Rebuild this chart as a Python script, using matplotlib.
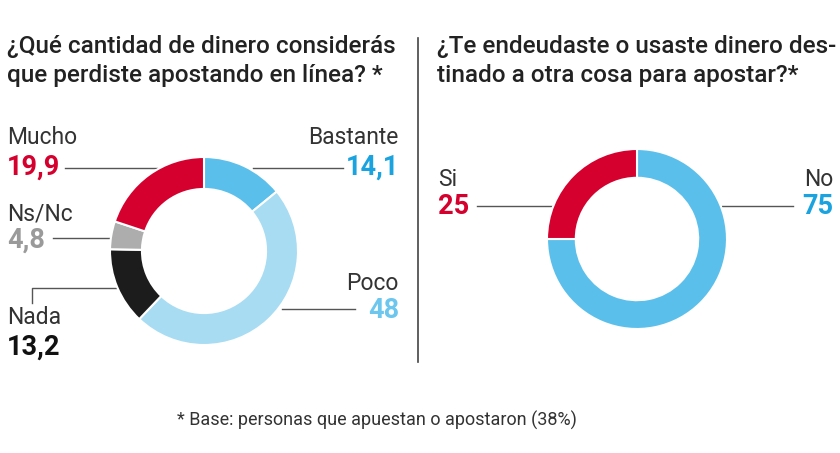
import matplotlib
matplotlib.use("Agg")
import matplotlib.pyplot as plt

# ---- data ----
left_labels = ["Bastante", "Poco", "Nada", "Ns/Nc", "Mucho"]
left_values = [14.1, 48, 13.2, 4.8, 19.9]
left_value_text = ["14,1", "48", "13,2", "4,8", "19,9"]
left_colors = ["#5bbfeb", "#a7dcf3", "#1c1c1c", "#adadad", "#d5002d"]
left_num_colors = ["#1aa3df", "#6cc6ee", "#111111", "#9a9a9a", "#d5002d"]

right_labels = ["No", "Si"]
right_values = [75, 25]
right_value_text = ["75", "25"]
right_colors = ["#5bbfeb", "#d5002d"]
right_num_colors = ["#1aa3df", "#d5002d"]

title_left = "¿Qué cantidad de dinero considerás\nque perdiste apostando en línea? *"
title_right = "¿Te endeudaste o usaste dinero des-\ntinado a otra cosa para apostar?*"
footnote = "* Base: personas que apuestan o apostaron (38%)"

W, H = 840, 453
plt.rcParams['font.family'] = ['Roboto', 'DejaVu Sans']
fig = plt.figure(figsize=(W / 100, H / 100), dpi=100)
fig.patch.set_facecolor("white")

ov = fig.add_axes([0, 0, 1, 1])
ov.set_xlim(0, W)
ov.set_ylim(H, 0)
ov.axis("off")

def donut(cx, cy, r, values, colors, width):
    ax = fig.add_axes([(cx - r) / W, (H - cy - r) / H, 2 * r / W, 2 * r / H])
    ax.pie(values, colors=colors, startangle=90, counterclock=False, radius=1,
           wedgeprops=dict(width=width, edgecolor="white", linewidth=1.5))
    ax.set_xlim(-1, 1)
    ax.set_ylim(-1, 1)
    ax.axis("off")
    return ax

donut(204, 251, 94, left_values, left_colors, 0.34)
donut(637, 239, 90, right_values, right_colors, 0.32)

txt = "#333333"
line_c = "#555555"

# titles
ov.text(7, 61, title_left, fontsize=17.5, color="#222222", ha="left", va="center",
        linespacing=1.35, fontweight="medium")
ov.text(437, 61, title_right, fontsize=17.5, color="#222222", ha="left", va="center",
        linespacing=1.35, fontweight="medium")

# divider
ov.plot([418, 418], [38, 362], color="#444444", lw=1.2)

lab_fs = 16.5
num_fs = 19.5

def label(x, y_lab, y_num, name, num, ncol, ha):
    ov.text(x, y_lab, name, fontsize=lab_fs, color=txt, ha=ha, va="center")
    ov.text(x, y_num, num, fontsize=num_fs, color=ncol, ha=ha, va="center", fontweight="bold")

# left chart labels
idx = {n: i for i, n in enumerate(left_labels)}
i = idx["Mucho"]; label(7, 137, 167, "Mucho", left_value_text[i], left_num_colors[i], "left")
ov.plot([65, 157], [168, 168], color=line_c, lw=1)
i = idx["Bastante"]; label(399, 137, 167, "Bastante", left_value_text[i], left_num_colors[i], "right")
ov.plot([253, 343], [168, 168], color=line_c, lw=1)
i = idx["Ns/Nc"]; label(7, 214, 240, "Ns/Nc", left_value_text[i], left_num_colors[i], "left")
ov.plot([53, 109], [238, 238], color=line_c, lw=1)
i = idx["Nada"]; label(7, 318, 347, "Nada", left_value_text[i], left_num_colors[i], "left")
ov.plot([32, 32, 116], [303, 288, 288], color=line_c, lw=1)
i = idx["Poco"]; label(399, 284, 310, "Poco", left_value_text[i], left_num_colors[i], "right")
ov.plot([282, 355], [309, 309], color=line_c, lw=1)

# right chart labels
label(438, 180, 207, "Si", right_value_text[1], right_num_colors[1], "left")
ov.plot([477, 552], [206, 206], color=line_c, lw=1)
label(833, 180, 207, "No", right_value_text[0], right_num_colors[0], "right")
ov.plot([722, 793], [206, 206], color=line_c, lw=1)

ov.text(177, 420, footnote, fontsize=13, color=txt, ha="left", va="center")

fig.savefig("out.png", dpi=100, facecolor="white")
